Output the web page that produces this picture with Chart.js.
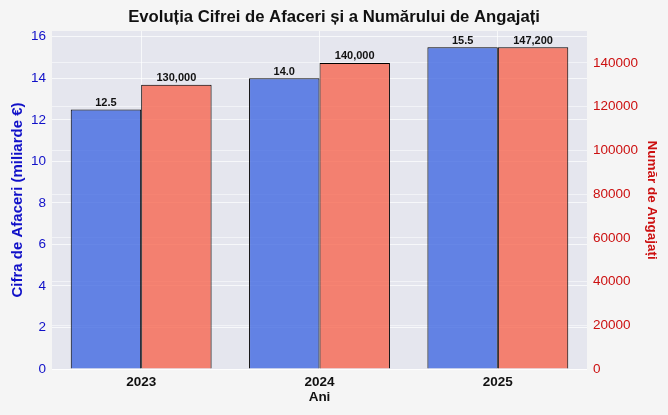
<!DOCTYPE html>
<html>
<head>
<meta charset="utf-8">
<script src="https://cdn.jsdelivr.net/npm/chart.js@4"></script>
<style>
  html, body { margin: 0; padding: 0; background: #f5f5f5; }
  #wrap { width: 668px; height: 415px; }
</style>
</head>
<body>
<div id="wrap"><canvas id="grafic" width="668" height="415"></canvas></div>
<script>
// date
const ani = ['2023', '2024', '2025'];
const cifraAfaceri = [12.5, 14.0, 15.5];      // miliarde €
const angajati = [130000, 140000, 147200];    // număr de angajați

// gradațiile axelor
const ticksCifra = [0, 2, 4, 6, 8, 10, 12, 14, 16];
const ticksAngajati = [0, 20000, 40000, 60000, 80000, 100000, 120000, 140000];

const FONT = "'Liberation Sans', Arial, sans-serif";
const ALBASTRU = '#1010c8';
const ROSU = '#cc1010';

// fundalul zonei de desen
const fundal = {
  id: 'fundal',
  beforeDraw(chart) {
    const a = chart.chartArea, ctx = chart.ctx;
    ctx.save();
    ctx.fillStyle = '#e5e6ee';
    ctx.fillRect(a.left, a.top, a.right - a.left, a.bottom - a.top);
    ctx.restore();
  }
};

// etichete deasupra barelor
const etichete = {
  id: 'etichete',
  afterDatasetsDraw(chart) {
    const ctx = chart.ctx;
    ctx.save();
    ctx.font = 'bold 11px ' + FONT;
    ctx.fillStyle = '#111';
    ctx.textAlign = 'center';
    ctx.textBaseline = 'bottom';
    chart.data.datasets.forEach((ds, i) => {
      chart.getDatasetMeta(i).data.forEach((bar, j) => {
        const v = ds.data[j];
        const txt = i === 0 ? v.toFixed(1) : v.toLocaleString('en-US');
        ctx.fillText(txt, bar.x, bar.y - 1);
      });
    });
    ctx.restore();
  }
};

new Chart(document.getElementById('grafic'), {
  type: 'bar',
  data: {
    labels: ani,
    datasets: [
      {
        label: 'Cifra de Afaceri',
        data: cifraAfaceri,
        yAxisID: 'y',
        backgroundColor: 'rgba(65,105,225,0.8)',
        borderColor: '#000',
        borderWidth: 1,
        categoryPercentage: 0.79,
        barPercentage: 1.0
      },
      {
        label: 'Număr de Angajați',
        data: angajati,
        yAxisID: 'y1',
        backgroundColor: 'rgba(246,102,80,0.8)',
        borderColor: '#000',
        borderWidth: 1,
        categoryPercentage: 0.79,
        barPercentage: 1.0
      }
    ]
  },
  options: {
    responsive: false,
    animation: false,
    layout: { padding: 0 },
    plugins: {
      legend: { display: false },
      tooltip: { enabled: false },
      title: {
        display: true,
        text: 'Evoluția Cifrei de Afaceri și a Numărului de Angajați',
        color: '#111',
        font: { family: FONT, size: 16.7, weight: 'bold' },
        padding: { top: 7, bottom: 4 }
      }
    },
    scales: {
      x: {
        offset: true,
        grid: { offset: false, color: 'rgba(255,255,255,0.7)', drawTicks: false },
        border: { display: false },
        ticks: { color: '#111', font: { family: FONT, size: 13.5, weight: 'bold' }, padding: 5 },
        title: { display: true, text: 'Ani', color: '#111', font: { family: FONT, size: 13.5, weight: 'bold' }, padding: { top: 1, bottom: 10 } },
        afterFit(s) { s.height = 46; }
      },
      y: {
        position: 'left',
        min: 0,
        max: 16.275,
        grid: { color: 'rgba(255,255,255,0.7)', drawTicks: false },
        border: { display: false },
        ticks: { color: ALBASTRU, font: { family: FONT, size: 13.5 }, padding: 6 },
        afterBuildTicks(s) { s.ticks = ticksCifra.map(v => ({ value: v })); },
        title: { display: true, text: 'Cifra de Afaceri (miliarde €)', color: ALBASTRU, font: { family: FONT, size: 15, weight: 'bold' }, padding: { top: 9, bottom: 4 } },
        afterFit(s) { s.width = 52; }
      },
      y1: {
        position: 'right',
        min: 0,
        max: 154560,
        grid: { color: 'rgba(255,255,255,0.5)', drawTicks: false },
        border: { display: false },
        ticks: { color: ROSU, font: { family: FONT, size: 13.5 }, padding: 6, callback: v => String(v) },
        afterBuildTicks(s) { s.ticks = ticksAngajati.map(v => ({ value: v })); },
        title: { display: true, text: 'Număr de Angajați', color: ROSU, font: { family: FONT, size: 13.5, weight: 'bold' }, padding: { top: 8, bottom: 4 } },
        afterFit(s) { s.width = 81; }
      }
    }
  },
  plugins: [fundal, etichete]
});
</script>
</body>
</html>
